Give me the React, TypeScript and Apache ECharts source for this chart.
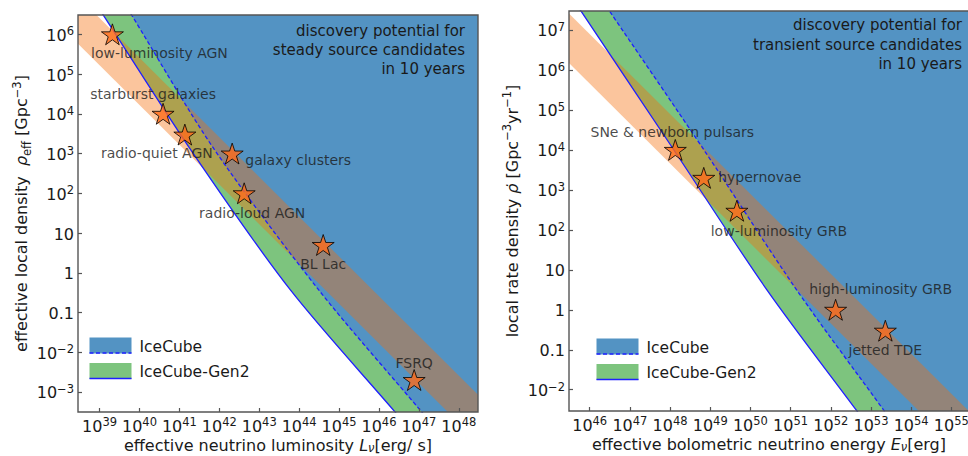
import { useEffect, useRef } from 'react';
import * as echarts from 'echarts';

// ---------------- data ----------------
// steady sources: effective neutrino luminosity [erg/s] vs effective local density [Gpc^-3]
const steadyNames = ['low-luminosity AGN', 'starburst galaxies', 'radio-quiet AGN', 'galaxy clusters', 'radio-loud AGN', 'BL Lac', 'FSRQ'];
const steadyLum = [2.1e39, 3.9e40, 1.37e41, 2.1e42, 4.2e42, 4.0e44, 7.6e46];
const steadyDensity = [1e6, 1e4, 3e3, 1e3, 1e2, 5, 2e-3];

// transient sources: effective bolometric neutrino energy [erg] vs local rate density [Gpc^-3 yr^-1]
const transientNames = ['SNe & newborn pulsars', 'hypernovae', 'low-luminosity GRB', 'high-luminosity GRB', 'jetted TDE'];
const transientEnergy = [1.35e48, 6.9e48, 4.6e49, 1.32e52, 2.28e53];
const transientRate = [1e4, 2e3, 3e2, 1, 0.3];

// discovery potential curves, steady panel
const steadyGen2L = [1.23e39, 2.19e41, 5.89e43, 2.51e46];
const steadyGen2Rho = [3.1e6, 1.02e3, 0.38, 3.16e-4];
const steadyIC_L = [6.3e39, 7.08e41, 3.02e44, 1.17e47];
const steadyIC_Rho = [3.1e6, 1.38e3, 0.38, 3.16e-4];

// discovery potential curves, transient panel
const transGen2E = [6.03e45, 1.1e48, 2.57e50, 4.47e52];
const transGen2Rho = [3.0e7, 1.2e4, 3.16, 2.95e-3];
const transIC_E = [3.09e46, 7.41e48, 1.41e51, 2.14e53];
const transIC_Rho = [3.0e7, 9.1e3, 3.16, 2.95e-3];

// source-population bands: rho * L (or rho * E) = const  [upper, lower]
const steadyBand = [2.57e45, 1.66e44];
const transientBand = [7.94e52, 4.57e51];

// tick exponents
const steadyXTicks = [39, 40, 41, 42, 43, 44, 45, 46, 47, 48];
const steadyYTicks = [-3, -2, -1, 0, 1, 2, 3, 4, 5, 6];
const transXTicks = [46, 47, 48, 49, 50, 51, 52, 53, 54, 55];
const transYTicks = [-2, -1, 0, 1, 2, 3, 4, 5, 6, 7];

// ---------------- layout / style ----------------
const FONT = 'DejaVu Sans';
const TXT = '#1a1a1a';
const SPINE = '#555555';
const BLUE_FILL = '#5393c3';
const GREEN_FILL = '#7dc47e';
const BAND_FILL = 'rgba(245,110,10,0.40)';
const LINE_BLUE = '#1f1fff';
const STAR = '#ff6b1a';
const SMOOTH = 0.3;

const steadyLabelOffset = [[47, 19], [-10, -20], [-28, 18], [66, 6], [8, 20], [0, 19], [0, -17]];
const transLabelOffset = [[-3, -18], [56, -1], [42, 20], [45, -21], [0, 19]];

const ext = [
  { xMin: 38.46, xMax: 48.48, yMin: -3.504, yMax: 6.486, left: 78, top: 15, width: 400, height: 397 },
  { xMin: 45.485, xMax: 55.44, yMin: -2.532, yMax: 7.475, left: 569, top: 11, width: 400, height: 400 },
];

const lg = Math.log10;
const STAR_PATH = 'path://M50,0 L61.2,34.5 L97.6,34.5 L68.2,55.9 L79.4,90.5 L50,69.1 L20.6,90.5 L31.8,55.9 L2.4,34.5 L38.8,34.5 Z';

function toPts(xs: number[], ys: number[]) {
  return xs.map((x, i) => [lg(x), lg(ys[i])]);
}

// continue a curve off-canvas at both ends (so that fills and lines reach the frame)
function extendOffCanvas(pts: number[][], e: any) {
  const n = pts.length;
  const a = pts[0], b = pts[1];
  const p = pts[n - 2], q = pts[n - 1];
  const head = [a[0] - (b[0] - a[0]) * 0.3, a[1] - (b[1] - a[1]) * 0.3];
  const tail = [q[0] + (q[0] - p[0]) * 0.3, q[1] + (q[1] - p[1]) * 0.3];
  const far = [e.xMax + 4, tail[1] - 4];
  return [head, ...pts, tail, far];
}

function areaSeries(pts: number[][], fill: string, gi: number) {
  return {
    type: 'line',
    xAxisIndex: gi,
    yAxisIndex: gi,
    data: extendOffCanvas(pts, ext[gi]),
    smooth: SMOOTH,
    showSymbol: false,
    symbol: 'none',
    clip: true,
    silent: true,
    z: 1,
    lineStyle: { width: 0, opacity: 0 },
    areaStyle: { color: fill, opacity: 1, origin: 'end' },
  };
}

function lineSeries(pts: number[][], gi: number, dashed: boolean) {
  return {
    type: 'line',
    xAxisIndex: gi,
    yAxisIndex: gi,
    data: extendOffCanvas(pts, ext[gi]),
    smooth: SMOOTH,
    showSymbol: false,
    symbol: 'none',
    clip: true,
    silent: true,
    z: 3,
    lineStyle: { color: LINE_BLUE, width: 1.3, type: dashed ? [4, 2.5] : 'solid' },
  };
}

function bandSeries(vals: number[], gi: number) {
  const e = ext[gi];
  const a = lg(vals[0]);
  const b = lg(vals[1]);
  const x0 = e.xMin - 3;
  const x1 = e.xMax + 3;
  const pts = [[x0, a - x0], [x1, a - x1], [x1, b - x1], [x0, b - x0]];
  return {
    type: 'custom',
    xAxisIndex: gi,
    yAxisIndex: gi,
    clip: true,
    silent: true,
    z: 2,
    data: [0],
    renderItem: (_p: any, api: any) => ({
      type: 'polygon',
      shape: { points: pts.map((p) => api.coord(p)) },
      style: { fill: BAND_FILL, stroke: null },
    }),
  };
}

function starSeries(names: string[], xs: number[], ys: number[], offs: number[][], gi: number) {
  return {
    type: 'scatter',
    xAxisIndex: gi,
    yAxisIndex: gi,
    symbol: STAR_PATH,
    symbolKeepAspect: true,
    symbolSize: 22,
    z: 4,
    silent: true,
    itemStyle: { color: STAR, borderColor: '#000', borderWidth: 1 },
    data: names.map((n, i) => ({
      value: [lg(xs[i]), lg(ys[i])],
      label: {
        show: true,
        formatter: n,
        position: 'inside',
        offset: offs[i],
        color: TXT,
        fontSize: 14,
        fontFamily: FONT,
      },
    })),
  };
}

function tickFmt(v: number) {
  const n = Math.round(v);
  if (n === 0) return '{b|1}';
  if (n === 1) return '{b|10}';
  if (n === -1) return '{b|0.1}';
  return '{b|10}{s|' + (n < 0 ? '\u2212' + -n : String(n)) + '}';
}

const tickRich = {
  b: { fontSize: 16, fontFamily: FONT, color: TXT, lineHeight: 18, verticalAlign: 'bottom' },
  s: { fontSize: 11.5, fontFamily: FONT, color: TXT, lineHeight: 10, verticalAlign: 'top' },
};

const xNameRich = {
  n: { fontSize: 16, fontFamily: FONT, color: TXT, lineHeight: 18 },
  i: { fontSize: 16, fontFamily: FONT, color: TXT, lineHeight: 18, fontStyle: 'italic' },
  subi: { fontSize: 11.5, fontFamily: FONT, color: TXT, lineHeight: 10, verticalAlign: 'bottom', fontStyle: 'italic' },
};

const yNameRich = {
  n: { fontSize: 16, fontFamily: FONT, color: TXT, lineHeight: 22 },
  i: { fontSize: 16, fontFamily: FONT, color: TXT, lineHeight: 22, fontStyle: 'italic' },
  sub: { fontSize: 11.5, fontFamily: FONT, color: TXT, lineHeight: 14, verticalAlign: 'bottom' },
  sup: { fontSize: 11.5, fontFamily: FONT, color: TXT, lineHeight: 14, verticalAlign: 'top' },
};

function makeXAxis(gi: number, ticks: number[], name: string, gap: number) {
  const e = ext[gi];
  return {
    type: 'value',
    gridIndex: gi,
    min: e.xMin,
    max: e.xMax,
    z: 10,
    axisLine: { show: false, onZero: false },
    axisTick: { show: true, inside: true, length: 4, customValues: ticks, lineStyle: { color: SPINE, width: 1.2 } },
    axisLabel: { customValues: ticks, formatter: tickFmt, rich: tickRich, margin: 4 },
    splitLine: { show: false },
    name,
    nameLocation: 'middle',
    nameGap: gap,
    nameMoveOverlap: false,
    nameTextStyle: { rich: xNameRich },
  };
}

function makeYAxis(gi: number, ticks: number[], name: string, gap: number) {
  const e = ext[gi];
  return {
    type: 'value',
    gridIndex: gi,
    min: e.yMin,
    max: e.yMax,
    z: 10,
    axisLine: { show: false, onZero: false },
    axisTick: { show: true, inside: true, length: 4, customValues: ticks, lineStyle: { color: SPINE, width: 1.2 } },
    axisLabel: { customValues: ticks, formatter: tickFmt, rich: tickRich, margin: 4 },
    splitLine: { show: false },
    name,
    nameLocation: 'middle',
    nameRotate: 90,
    nameGap: gap,
    nameTextStyle: { rich: yNameRich },
  };
}

function legendGraphics(x: number, y: number) {
  return [
    { type: 'rect', z: 50, shape: { x, y, width: 42, height: 16 }, style: { fill: BLUE_FILL } },
    { type: 'line', z: 51, shape: { x1: x, y1: y + 15.5, x2: x + 42, y2: y + 15.5 }, style: { stroke: LINE_BLUE, lineWidth: 1.5, lineDash: [4, 2.5] } },
    { type: 'rect', z: 50, shape: { x, y: y + 25.5, width: 42, height: 16 }, style: { fill: GREEN_FILL } },
    { type: 'line', z: 51, shape: { x1: x, y1: y + 41, x2: x + 42, y2: y + 41 }, style: { stroke: LINE_BLUE, lineWidth: 1.5 } },
    { type: 'text', z: 51, x: x + 50, y: y + 9, style: { text: 'IceCube', fontSize: 15.5, fontFamily: FONT, fill: TXT, verticalAlign: 'middle', align: 'left' } },
    { type: 'text', z: 51, x: x + 50, y: y + 34, style: { text: 'IceCube-Gen2', fontSize: 15.5, fontFamily: FONT, fill: TXT, verticalAlign: 'middle', align: 'left' } },
  ];
}

function buildOption() {
  const e0 = ext[0];
  const e1 = ext[1];
  const sGen2 = toPts(steadyGen2L, steadyGen2Rho);
  const sIC = toPts(steadyIC_L, steadyIC_Rho);
  const tGen2 = toPts(transGen2E, transGen2Rho);
  const tIC = toPts(transIC_E, transIC_Rho);

  return {
    animation: false,
    backgroundColor: '#ffffff',
    grid: ext.map((e) => ({
      left: e.left,
      top: e.top,
      width: e.width,
      height: e.height,
      containLabel: false,
      outerBoundsMode: 'none',
      show: false,
    })),
    xAxis: [
      makeXAxis(0, steadyXTicks, '{n|effective neutrino luminosity }{i|L}{subi|ν}{n|[erg/ s]}', 24),
      makeXAxis(1, transXTicks, '{n|effective bolometric neutrino energy }{i|E}{subi|ν}{n|[erg]}', 24),
    ],
    yAxis: [
      makeYAxis(0, steadyYTicks, '{n|effective local density  }{i|ρ}{sub|eff}{n| [Gpc}{sup|−3}{n|]}', 42),
      makeYAxis(1, transYTicks, '{n|local rate density }{i|ρ̇}{n| [Gpc}{sup|−3}{n|yr}{sup|−1}{n|]}', 46),
    ],
    series: [
      areaSeries(sGen2, GREEN_FILL, 0),
      areaSeries(sIC, BLUE_FILL, 0),
      bandSeries(steadyBand, 0),
      lineSeries(sGen2, 0, false),
      lineSeries(sIC, 0, true),
      starSeries(steadyNames, steadyLum, steadyDensity, steadyLabelOffset, 0),

      areaSeries(tGen2, GREEN_FILL, 1),
      areaSeries(tIC, BLUE_FILL, 1),
      bandSeries(transientBand, 1),
      lineSeries(tGen2, 1, false),
      lineSeries(tIC, 1, true),
      starSeries(transientNames, transientEnergy, transientRate, transLabelOffset, 1),
    ],
    graphic: [
      { type: 'rect', z: 100, silent: true, shape: { x: e0.left, y: e0.top, width: e0.width, height: e0.height }, style: { fill: 'none', stroke: SPINE, lineWidth: 1.4 } },
      { type: 'rect', z: 100, silent: true, shape: { x: e1.left, y: e1.top, width: e1.width, height: e1.height }, style: { fill: 'none', stroke: SPINE, lineWidth: 1.4 } },
      {
        type: 'text', z: 60, x: 465, y: 21.5,
        style: { text: 'discovery potential for\nsteady source candidates\nin 10 years', align: 'right', verticalAlign: 'top', lineHeight: 19, fontSize: 15, fontFamily: FONT, fill: TXT },
      },
      {
        type: 'text', z: 60, x: 962, y: 15.5,
        style: { text: 'discovery potential for\ntransient source candidates\nin 10 years', align: 'right', verticalAlign: 'top', lineHeight: 19.5, fontSize: 15, fontFamily: FONT, fill: TXT },
      },
      ...legendGraphics(89.5, 337.5),
      ...legendGraphics(596.5, 338.5),
    ],
  };
}

export default function App() {
  const ref = useRef<HTMLDivElement>(null);
  useEffect(() => {
    if (!ref.current) return;
    const chart = echarts.init(ref.current, null, { renderer: 'svg' });
    chart.setOption(buildOption() as any);
    return () => chart.dispose();
  }, []);
  return (
    <div
      ref={ref}
      style={{ position: 'absolute', left: 0, top: 0, width: 968, height: 456, background: '#fff' }}
    />
  );
}
